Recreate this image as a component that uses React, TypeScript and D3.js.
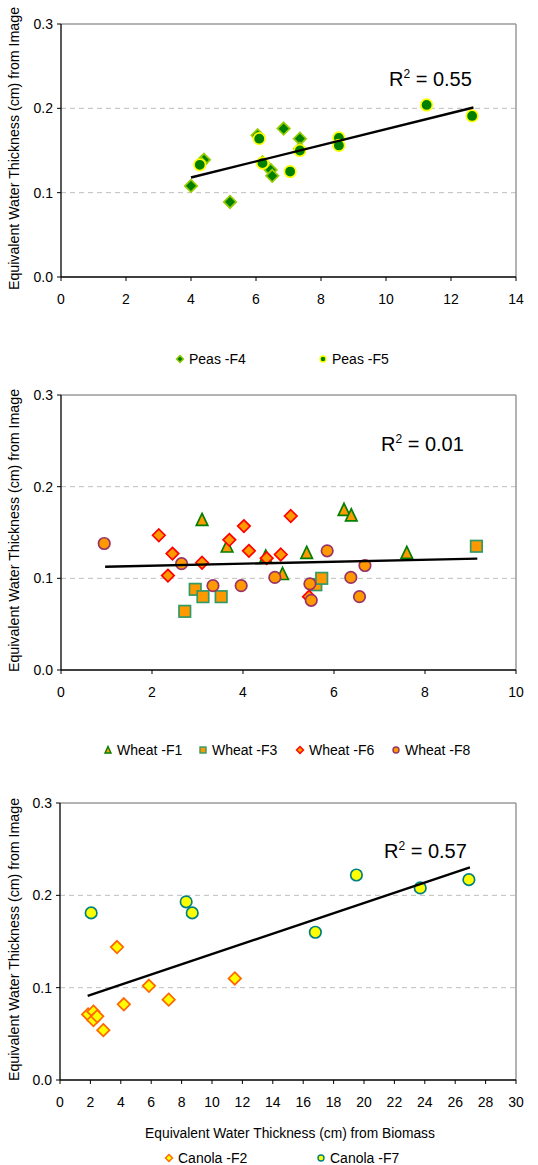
import React from "react";
import * as d3 from "d3";

// ---- data ----
const peasF4: [number, number][] = [
  [4.0, 0.108], [4.4, 0.139], [4.3, 0.135], [5.2, 0.089], [6.05, 0.168], [6.2, 0.136],
  [6.45, 0.127], [6.5, 0.12], [6.85, 0.176], [7.35, 0.164], [7.35, 0.152],
];
const peasF5: [number, number][] = [
  [4.27, 0.133], [6.1, 0.164], [6.2, 0.135], [7.05, 0.125], [7.35, 0.15],
  [8.55, 0.165], [8.55, 0.156], [11.25, 0.204], [12.65, 0.191],
];
const peasTrend: [number, number][] = [[4.0, 0.118], [12.69, 0.201]];

const wheatF1: [number, number][] = [
  [3.1, 0.164], [3.65, 0.135], [4.5, 0.124], [4.87, 0.105], [5.4, 0.128],
  [6.22, 0.175], [6.38, 0.169], [7.6, 0.128],
];
const wheatF3: [number, number][] = [
  [2.72, 0.064], [2.95, 0.088], [3.12, 0.08], [3.52, 0.08], [5.6, 0.093], [5.73, 0.1], [9.13, 0.135],
];
const wheatF6: [number, number][] = [
  [2.15, 0.147], [2.45, 0.127], [2.35, 0.103], [3.1, 0.117], [3.7, 0.142], [4.02, 0.157],
  [4.13, 0.13], [4.52, 0.122], [4.83, 0.126], [5.05, 0.168], [5.45, 0.08],
];
const wheatF8: [number, number][] = [
  [0.95, 0.138], [2.65, 0.116], [3.34, 0.092], [3.96, 0.092], [4.7, 0.101], [5.47, 0.094],
  [5.5, 0.076], [5.85, 0.13], [6.37, 0.101], [6.56, 0.08], [6.68, 0.114],
];
const wheatTrend: [number, number][] = [[0.97, 0.1127], [9.15, 0.1215]];

const canolaF2: [number, number][] = [
  [3.75, 0.144], [11.5, 0.11], [1.85, 0.071], [2.2, 0.074], [2.2, 0.065], [2.45, 0.069],
  [2.85, 0.054], [4.2, 0.082], [5.85, 0.102], [7.15, 0.087],
];
const canolaF7: [number, number][] = [
  [2.05, 0.181], [8.3, 0.193], [8.7, 0.181], [16.8, 0.16], [19.5, 0.222], [23.7, 0.208], [26.9, 0.217],
];
const canolaTrend: [number, number][] = [[1.82, 0.091], [26.97, 0.2304]];

const yTicks = [0, 0.1, 0.2, 0.3];
const yGrid = [0.1, 0.2];
const peasXTicks = [0, 2, 4, 6, 8, 10, 12, 14];
const wheatXTicks = [0, 2, 4, 6, 8, 10];
const canolaXTicks = [0, 2, 4, 6, 8, 10, 12, 14, 16, 18, 20, 22, 24, 26, 28, 30];
const r2Labels = ["0.55", "0.01", "0.57"];

const yTitle = "Equivalent Water Thickness (cm) from Image";
const xTitle = "Equivalent Water Thickness (cm) from Biomass";
const FONT = "'Liberation Sans', Arial, sans-serif";

type Shape = "diamond" | "circle" | "triangle" | "square";
type Series = { name: string; data: [number, number][]; shape: Shape; fill: string; stroke: string };

function Marker({ shape, x, y, s, fill, stroke, sw }: { shape: Shape; x: number; y: number; s: number; fill: string; stroke: string; sw: number }) {
  if (shape === "circle") return <circle cx={x} cy={y} r={s / 2} fill={fill} stroke={stroke} strokeWidth={sw} />;
  if (shape === "square")
    return <rect x={x - s / 2} y={y - s / 2} width={s} height={s} fill={fill} stroke={stroke} strokeWidth={sw} />;
  if (shape === "triangle") {
    const h = s / 2;
    return <path d={`M${x},${y - h - 0.5}L${x + h},${y + h}L${x - h},${y + h}Z`} fill={fill} stroke={stroke} strokeWidth={sw} />;
  }
  const h = s / 2 + 0.5;
  return <path d={`M${x},${y - h}L${x + h},${y}L${x},${y + h}L${x - h},${y}Z`} fill={fill} stroke={stroke} strokeWidth={sw} />;
}

function Panel(props: {
  left: number; right: number; top: number; bottom: number;
  xMax: number; xTicks: number[]; series: Series[]; trend: [number, number][];
  r2: string; r2x: number; r2y: number; legendY: number; legendX: number[]; xTitle?: string;
}) {
  const { left, right, top, bottom, xMax, xTicks, series, trend, r2, r2x, r2y, legendY, legendX } = props;
  const x = d3.scaleLinear().domain([0, xMax]).range([left, right]);
  const y = d3.scaleLinear().domain([0, 0.3]).range([bottom, top]);
  const line = d3.line<[number, number]>().x(d => x(d[0])).y(d => y(d[1]));
  const fmt = d3.format(".1f");
  const midY = (top + bottom) / 2;
  return (
    <g fontFamily={FONT}>
      {yGrid.map(v => (
        <line key={v} x1={left} x2={right} y1={y(v)} y2={y(v)} stroke="#bfbfbf" strokeWidth={1} strokeDasharray="5,4" />
      ))}
      <line x1={left} x2={right} y1={top} y2={top} stroke="#9a9a9a" strokeWidth={1.5} />
      <line x1={right} x2={right} y1={top} y2={bottom} stroke="#9a9a9a" strokeWidth={1.5} />
      <line x1={left} x2={left} y1={top} y2={bottom} stroke="#000" strokeWidth={1.3} />
      <line x1={left} x2={right} y1={bottom} y2={bottom} stroke="#000" strokeWidth={1.3} />
      {yTicks.map(v => (
        <g key={v}>
          <line x1={left - 4} x2={left} y1={y(v)} y2={y(v)} stroke="#000" strokeWidth={1} />
          <text x={left - 8} y={y(v) + 5} textAnchor="end" fontSize={14} fill="#000">{fmt(v)}</text>
        </g>
      ))}
      {xTicks.map(v => (
        <g key={v}>
          <line x1={x(v)} x2={x(v)} y1={bottom} y2={bottom + 4} stroke="#000" strokeWidth={1} />
          <text x={x(v)} y={bottom + 27} textAnchor="middle" fontSize={14} fill="#000">{v}</text>
        </g>
      ))}
      <text transform={`translate(19,${midY - 2}) rotate(-90)`} textAnchor="middle" fontSize={14.2} fill="#000">{yTitle}</text>
      {props.xTitle && (
        <text x={(left + right) / 2 + 2} y={bottom + 58} textAnchor="middle" fontSize={13.8} fill="#000">{props.xTitle}</text>
      )}
      {series.map(s => (
        <g key={s.name}>
          {s.data.map((d, i) => (
            <Marker key={i} shape={s.shape} x={x(d[0])} y={y(d[1])} s={11.5} fill={s.fill} stroke={s.stroke} sw={1.7} />
          ))}
        </g>
      ))}
      <path d={line(trend) || ""} stroke="#000" strokeWidth={2.4} fill="none" />
      <text x={r2x} y={r2y} fontSize={20} fill="#000">
        R<tspan fontSize={12} dy={-8}>2</tspan><tspan dy={8}> = {r2}</tspan>
      </text>
      {series.map((s, i) => (
        <g key={s.name}>
          <Marker shape={s.shape} x={legendX[i]} y={legendY} s={6} fill={s.fill} stroke={s.stroke} sw={1.4} />
          <text x={legendX[i] + 9} y={legendY + 5} fontSize={14} fill="#000">{s.name}</text>
        </g>
      ))}
    </g>
  );
}

export default function App() {
  const peas: Series[] = [
    { name: "Peas -F4", data: peasF4, shape: "diamond", fill: "#008000", stroke: "#99cc00" },
    { name: "Peas -F5", data: peasF5, shape: "circle", fill: "#008000", stroke: "#ffff00" },
  ];
  const wheat: Series[] = [
    { name: "Wheat -F1", data: wheatF1, shape: "triangle", fill: "#ff9900", stroke: "#008000" },
    { name: "Wheat -F3", data: wheatF3, shape: "square", fill: "#ff9900", stroke: "#339966" },
    { name: "Wheat -F6", data: wheatF6, shape: "diamond", fill: "#ff9900", stroke: "#ff0000" },
    { name: "Wheat -F8", data: wheatF8, shape: "circle", fill: "#ff9900", stroke: "#993366" },
  ];
  const canola: Series[] = [
    { name: "Canola -F2", data: canolaF2, shape: "diamond", fill: "#ffff00", stroke: "#ff6600" },
    { name: "Canola -F7", data: canolaF7, shape: "circle", fill: "#ffff00", stroke: "#008080" },
  ];
  return (
    <svg width={538} height={1165} style={{ position: "absolute", left: 0, top: 0, background: "#fff" }}>
      <rect width={538} height={1165} fill="#fff" />
      <Panel left={61} right={516} top={24} bottom={277} xMax={14} xTicks={peasXTicks} series={peas}
        trend={peasTrend} r2={r2Labels[0]} r2x={389} r2y={86} legendY={359} legendX={[180, 323]} />
      <Panel left={61} right={516} top={395} bottom={670} xMax={10} xTicks={wheatXTicks} series={wheat}
        trend={wheatTrend} r2={r2Labels[1]} r2x={381} r2y={451} legendY={750} legendX={[108, 203, 300, 396]} />
      <Panel left={60} right={516} top={803} bottom={1080} xMax={30} xTicks={canolaXTicks} series={canola}
        trend={canolaTrend} r2={r2Labels[2]} r2x={384} r2y={858} legendY={1158} legendX={[169, 321]} xTitle={xTitle} />
    </svg>
  );
}
